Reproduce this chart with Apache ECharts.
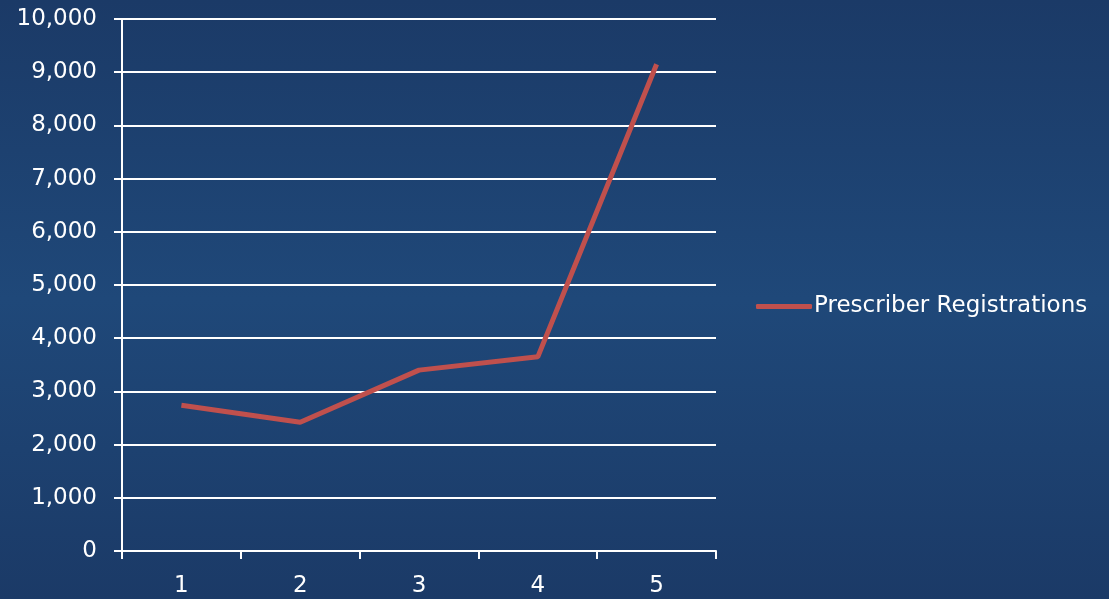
<!DOCTYPE html>
<html>
<head>
<meta charset="utf-8">
<script src="https://cdn.jsdelivr.net/npm/echarts@6/dist/echarts.min.js"></script>
<style>
  html, body { margin: 0; padding: 0; }
  #echart_main { width: 1109px; height: 599px; }
</style>
</head>
<body>
<div id="echart_main"></div>
<script>
// data
var categories = ['1', '2', '3', '4', '5'];
var registrations = [2740, 2420, 3400, 3650, 9150];
var seriesName = 'Prescriber Registrations';

var myChart = echarts.init(document.getElementById('echart_main'));
var labelFont = 'DejaVu Sans';

var option = {
    backgroundColor: new echarts.graphic.LinearGradient(0, 0, 0, 1, [
        { offset: 0, color: '#1b3a67' },
        { offset: 0.5, color: '#1f4879' },
        { offset: 1, color: '#1b3a67' }
    ]),
    animation: false,
    grid: {
        left: 122,
        right: 393,
        top: 19,
        bottom: 48,
        containLabel: false
    },
    legend: {
        left: 751,
        top: 290,
        itemWidth: 56,
        itemHeight: 5,
        itemGap: 0,
        textStyle: { color: '#ffffff', fontSize: 23, fontFamily: labelFont, padding: [0, 0, 0, -3] },
        data: [{ name: seriesName, icon: 'roundRect' }]
    },
    xAxis: {
        type: 'category',
        data: categories,
        boundaryGap: true,
        axisLine: { lineStyle: { color: '#ffffff', width: 2 } },
        axisTick: { show: true, length: 8, lineStyle: { color: '#ffffff', width: 2 } },
        axisLabel: { color: '#ffffff', fontSize: 23, fontFamily: labelFont, margin: 24 }
    },
    yAxis: {
        type: 'value',
        min: 0,
        max: 10000,
        interval: 1000,
        axisLine: { show: true, lineStyle: { color: '#ffffff', width: 2 } },
        axisTick: { show: true, length: 8, lineStyle: { color: '#ffffff', width: 2 } },
        splitLine: { lineStyle: { color: '#ffffff', width: 2 } },
        axisLabel: {
            color: '#ffffff', fontSize: 23, fontFamily: labelFont, margin: 25,
            formatter: function (v) { return v.toLocaleString('en-US'); }
        }
    },
    series: [
        {
            name: seriesName,
            type: 'line',
            symbol: 'none',
            data: registrations,
            lineStyle: { color: '#c0504d', width: 5 },
            itemStyle: { color: '#c0504d' }
        }
    ]
};
myChart.setOption(option);
</script>
</body>
</html>
